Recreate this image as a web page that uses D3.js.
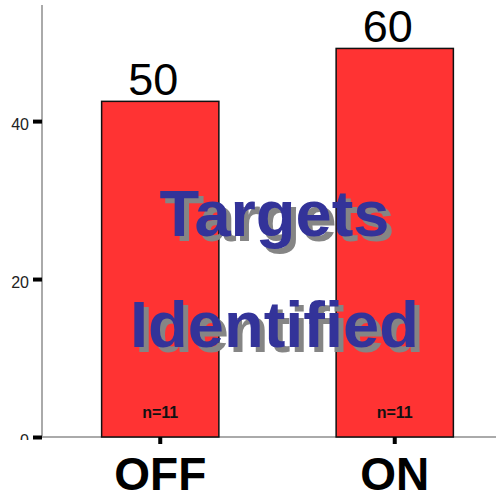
<!DOCTYPE html>
<html><head><meta charset="utf-8">
<script src="https://cdn.jsdelivr.net/npm/d3@7"></script>
<style>body{margin:0;background:#fff}svg{display:block}</style>
</head><body>
<script>
const categories = ["OFF", "ON"];
const values = [42.5, 49.2];
const topLabels = ["50", "60"];
const nLabels = ["n=11", "n=11"];
const yTicks = [0, 20, 40];
const yMax = 54.7;
const overlayLines = ["Targets", "Identified"];

const W = 496, H = 496;
const svg = d3.select("body").append("svg").attr("width", W).attr("height", H);

const y = d3.scaleLinear().domain([0, yMax]).range([437, 5]);
const x = d3.scaleBand().domain(categories).range([43, 512]).paddingInner(0.5).paddingOuter(0.25);

// axes lines (grey)
svg.append("line").attr("x1", 42).attr("x2", 42).attr("y1", y(yMax)).attr("y2", y(0))
  .attr("stroke", "#aaaaaa").attr("stroke-width", 2);
svg.append("line").attr("x1", 42).attr("x2", W).attr("y1", y(0)).attr("y2", y(0))
  .attr("stroke", "#aaaaaa").attr("stroke-width", 2);

// y axis ticks
svg.append("clipPath").attr("id", "yc").append("rect")
  .attr("x", -42).attr("y", 0).attr("width", 44).attr("height", 440);
const yAxis = svg.append("g").attr("transform", "translate(42,0)").attr("clip-path", "url(#yc)")
  .call(d3.axisLeft(y).tickValues(yTicks).tickSize(9).tickPadding(4).tickFormat(d3.format("d")));
yAxis.select(".domain").remove();
yAxis.selectAll(".tick line").attr("stroke", "#000").attr("stroke-width", 4);
yAxis.selectAll(".tick text").attr("font-family", "Liberation Sans, Arial, sans-serif")
  .attr("font-size", 16).attr("fill", "#222").attr("dy", "0.55em");

// bars
svg.selectAll("rect.bar").data(values).join("rect").attr("class", "bar")
  .attr("x", (d, i) => x(categories[i])).attr("width", x.bandwidth())
  .attr("y", d => y(d)).attr("height", d => y(0) - y(d))
  .attr("fill", "#ff3333").attr("stroke", "#111").attr("stroke-width", 1.5);

// x ticks
svg.selectAll("line.xt").data(categories).join("line").attr("class", "xt")
  .attr("x1", d => x(d) + x.bandwidth() / 2).attr("x2", d => x(d) + x.bandwidth() / 2)
  .attr("y1", y(0)).attr("y2", y(0) + 7).attr("stroke", "#000").attr("stroke-width", 4);

// x labels
svg.selectAll("text.xl").data(categories).join("text").attr("class", "xl")
  .attr("x", d => x(d) + x.bandwidth() / 2).attr("y", 490)
  .attr("text-anchor", "middle").attr("font-family", "Liberation Sans, Arial, sans-serif")
  .attr("font-weight", "bold").attr("font-size", 46).attr("fill", "#000").text(d => d);

// top labels
svg.selectAll("text.tl").data(values).join("text").attr("class", "tl")
  .attr("x", (d, i) => x(categories[i]) + x.bandwidth() / 2 - 7).attr("y", d => y(d) - 6)
  .attr("text-anchor", "middle").attr("font-family", "Liberation Sans, Arial, sans-serif")
  .attr("font-size", 45).attr("fill", "#000").text((d, i) => topLabels[i]);

// n labels
svg.selectAll("text.nl").data(nLabels).join("text").attr("class", "nl")
  .attr("x", (d, i) => x(categories[i]) + x.bandwidth() / 2).attr("y", 418)
  .attr("text-anchor", "middle").attr("font-family", "Liberation Sans, Arial, sans-serif")
  .attr("font-weight", "bold").attr("font-size", 16).attr("fill", "#111").text(d => d);

// overlay text with shadow
const cx = (x(categories[0]) + x(categories[1]) + x.bandwidth()) / 2 - 3;
const baselines = [236, 347];
overlayLines.forEach((t, i) => {
  svg.append("text").attr("x", cx + 5).attr("y", baselines[i] + 5)
    .attr("text-anchor", "middle").attr("font-family", "Liberation Sans, Arial, sans-serif")
    .attr("font-weight", "bold").attr("font-size", 65).attr("fill", "#858585").text(t);
  svg.append("text").attr("x", cx).attr("y", baselines[i])
    .attr("text-anchor", "middle").attr("font-family", "Liberation Sans, Arial, sans-serif")
    .attr("font-weight", "bold").attr("font-size", 65).attr("fill", "#333399").text(t);
});
</script>
</body></html>
